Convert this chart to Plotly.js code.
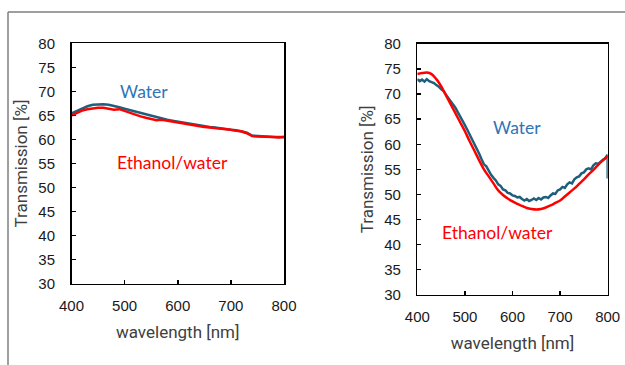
<!DOCTYPE html>
<html>
<head>
<meta charset="utf-8">
<script src="https://cdn.plot.ly/plotly-3.0.1.min.js"></script>
<style>html,body{margin:0;padding:0;background:#fff}#chart{width:625px;height:365px}</style>
</head>
<body>
<div id="chart"></div>
<script>
// ---- Left panel data ----
const wlLeft = [400,410,420,430,440,450,460,470,480,490,500,510,520,530,540,550,560,570,580,590,600,610,620,630,640,650,660,670,680,690,700,710,720,730,740,750,760,770,780,790,800];
const waterLeft = [65.4,65.9,66.5,66.9,67.2,67.3,67.3,67.2,67.0,66.7,66.4,66.1,65.8,65.5,65.2,64.9,64.6,64.4,64.1,63.9,63.7,63.5,63.3,63.1,62.9,62.7,62.6,62.5,62.3,62.2,62.0,61.9,61.7,61.4,60.8,60.7,60.6,60.6,60.5,60.5,60.5];
const ethanolLeft = [65.0,65.5,66.0,66.3,66.5,66.6,66.6,66.4,66.2,66.3,65.9,65.5,65.1,64.8,64.5,64.2,64.0,64.1,63.9,63.7,63.5,63.3,63.1,62.9,62.7,62.6,62.5,62.4,62.3,62.2,62.0,61.8,61.7,61.3,60.7,60.6,60.6,60.5,60.5,60.4,60.5];

// ---- Right panel data ----
const wlRightWater = [400,405,410,415,420,425,430,435,440,445,450,455,460,465,470,475,480,485,490,495,500,505,510,515,520,525,530,535,540,545,550,555,560,565,570,575,580,585,590,595,600,605,610,615,620,625,630,635,640,645,650,655,660,665,670,675,680,685,690,695,700,705,710,715,720,725,730,735,740,745,750,755,760,765,770,775,780,785,790,795,800,800];
const waterRight = [73.0,72.6,72.9,72.5,73.0,72.6,72.4,72.2,71.8,71.5,71.0,70.6,69.9,69.3,68.6,68.0,67.3,66.4,65.6,64.6,63.8,62.9,62.0,60.9,59.9,59.0,58.1,57.0,56.0,55.6,54.6,53.9,53.3,52.8,52.0,51.7,51.0,50.8,50.3,50.2,49.8,49.7,49.4,49.5,49.1,48.8,49.1,48.7,48.9,49.2,48.9,49.3,49.0,49.4,49.5,49.3,49.8,50.2,50.1,50.8,51.0,51.5,51.3,52.0,52.4,52.2,53.0,53.4,53.6,54.2,54.4,55.0,55.2,55.0,55.8,56.2,56.1,56.6,56.9,57.2,57.9,53.2];
const wlRightEthanol = [400,410,420,430,440,450,460,470,480,490,500,510,520,530,540,550,560,570,580,590,600,610,620,630,640,650,660,670,680,690,700,710,720,730,740,750,760,770,780,790,800];
const ethanolRight = [74.0,74.2,74.3,74.0,73.0,71.6,69.8,68.0,66.2,64.4,62.6,60.6,58.7,56.8,55.0,53.6,52.2,50.8,49.9,49.2,48.6,48.1,47.7,47.3,47.1,47.0,47.1,47.4,47.8,48.3,48.8,49.6,50.4,51.2,52.1,53.0,54.0,54.9,55.9,56.8,57.7];

const xTicks = [400,500,600,700,800];
const yTicks = [30,35,40,45,50,55,60,65,70,75,80];
const labelWater = "Water";
const labelEthanol = "Ethanol/water";

const waterColor = "#1f5f7c";
const ethanolColor = "#ff0000";

const traces = [
  {x: wlLeft, y: waterLeft, xaxis: "x", yaxis: "y", mode: "lines", line: {color: waterColor, width: 2.5}, name: labelWater},
  {x: wlLeft, y: ethanolLeft, xaxis: "x", yaxis: "y", mode: "lines", line: {color: ethanolColor, width: 2.5}, name: labelEthanol},
  {x: wlRightWater, y: waterRight, xaxis: "x2", yaxis: "y2", mode: "lines", line: {color: waterColor, width: 2.5}, name: labelWater},
  {x: wlRightEthanol, y: ethanolRight, xaxis: "x2", yaxis: "y2", mode: "lines", line: {color: ethanolColor, width: 2.5, shape: "spline"}, name: labelEthanol}
];

const tickFont = {family: "Liberation Sans, Arial, sans-serif", size: 15, color: "#1a1a1a"};
const titleFont = {family: "Roboto, sans-serif", size: 17, color: "#404040"};

function xAxis(domain, anchor) {
  return {domain: domain, anchor: anchor, range: [400, 800], tickvals: xTicks, ticktext: xTicks.map(String),
    ticks: "inside", ticklen: 4, tickwidth: 1.5, tickcolor: "#000", showline: true, mirror: true, linecolor: "#000", linewidth: 1.5,
    showgrid: false, zeroline: false, tickfont: tickFont, ticklabelstandoff: 8,
    title: {text: "wavelength [nm]", font: titleFont, standoff: 13}};
}
function yAxis(domain, anchor) {
  return {domain: domain, anchor: anchor, range: [30, 80], tickvals: yTicks, ticktext: yTicks.map(String),
    ticks: "inside", ticklen: 4, tickwidth: 1.5, tickcolor: "#000", showline: true, mirror: true, linecolor: "#000", linewidth: 1.5,
    showgrid: false, zeroline: false, tickfont: tickFont, ticklabelstandoff: 12,
    title: {text: "Transmission [%]", font: titleFont, standoff: 6}};
}

const annFont = (c) => ({family: "Lato, Open Sans, sans-serif", size: 17.5, color: c});

const layout = {
  width: 625, height: 365,
  margin: {l: 0, r: 0, t: 0, b: 0},
  paper_bgcolor: "#fff", plot_bgcolor: "#fff",
  showlegend: false,
  xaxis: xAxis([0.1144, 0.4544], "y"),
  yaxis: yAxis([0.2227, 0.8814], "x"),
  xaxis2: xAxis([0.6677, 0.9723], "y2"),
  yaxis2: yAxis([0.1925, 0.8795], "x2"),
  annotations: [
    {x: 537, y: 69.9, xref: "x", yref: "y", text: labelWater, showarrow: false, font: annFont("#2e75b6")},
    {x: 590, y: 55.3, xref: "x", yref: "y", text: labelEthanol, showarrow: false, font: annFont("#ff0000")},
    {x: 609, y: 63.4, xref: "x2", yref: "y2", text: labelWater, showarrow: false, font: annFont("#2e75b6")},
    {x: 569, y: 42.4, xref: "x2", yref: "y2", text: labelEthanol, showarrow: false, font: annFont("#ff0000")}
  ],
  shapes: [
    {type: "line", xref: "paper", yref: "paper", x0: 8/625, x1: 1, y0: 1 - 12/365, y1: 1 - 12/365, line: {color: "#7f7f7f", width: 1.5}},
    {type: "line", xref: "paper", yref: "paper", x0: 8/625, x1: 8/625, y0: 1 - 12/365, y1: 0, line: {color: "#7f7f7f", width: 1.5}}
  ]
};

Plotly.newPlot("chart", traces, layout, {displayModeBar: false, staticPlot: true});
</script>
</body>
</html>
